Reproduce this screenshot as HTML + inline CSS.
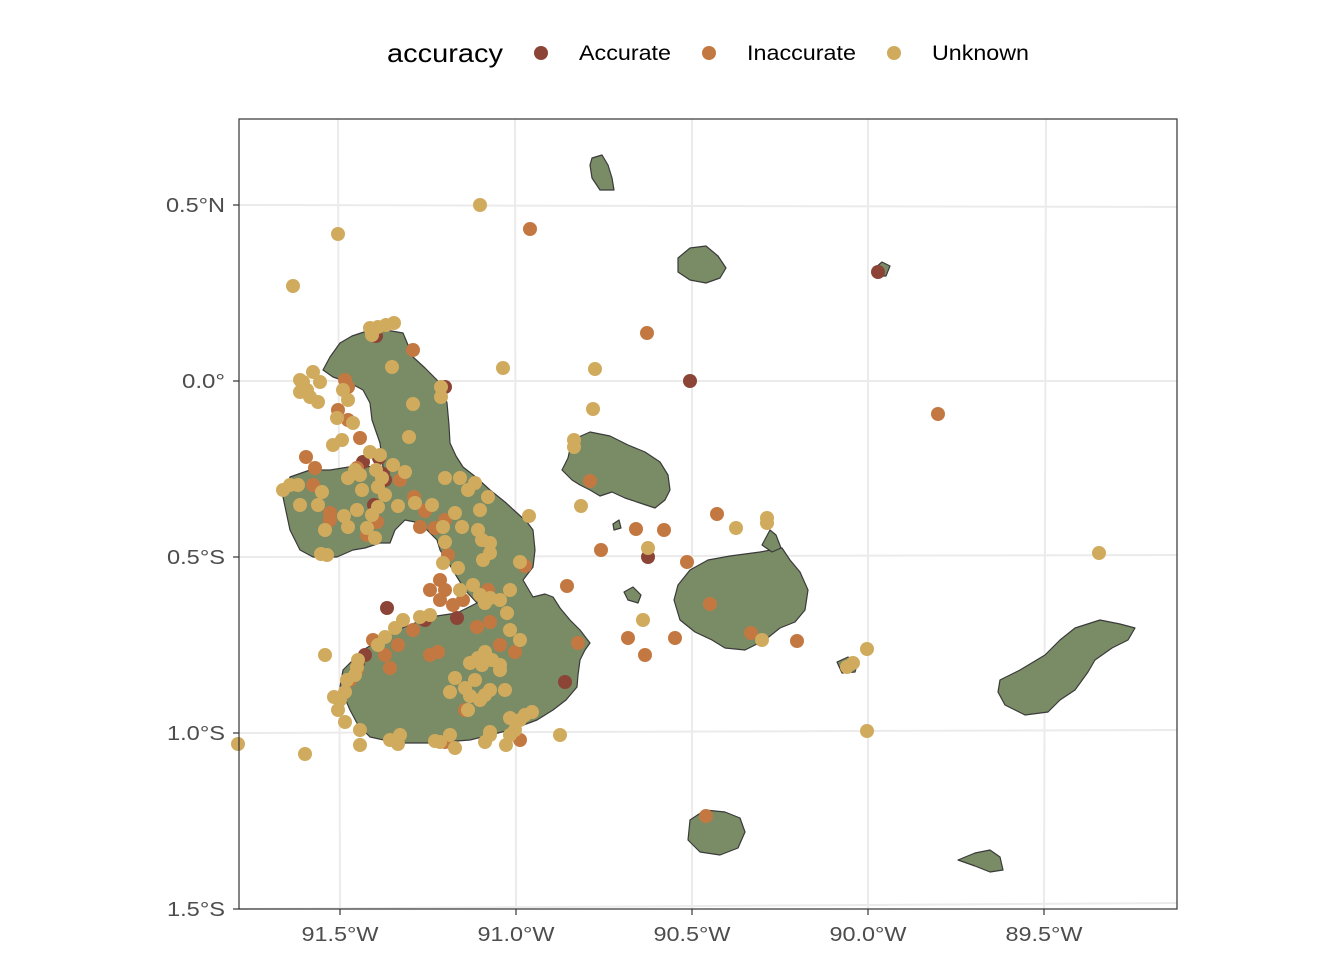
<!DOCTYPE html>
<html><head><meta charset="utf-8"><style>
body{margin:0;background:#fff}
svg{display:block;font-family:"Liberation Sans",Arial,sans-serif}
.a circle{fill:#8B4436}.i circle{fill:#C47841}.u circle{fill:#D0AB5E}
</style></head><body>
<svg width="1344" height="960" viewBox="0 0 1344 960" xmlns="http://www.w3.org/2000/svg">
<rect width="1344" height="960" fill="#fff"/>
<g stroke="#EBEBEB" stroke-width="2">
<line x1="239" y1="205" x2="1177" y2="207"/>
<line x1="239" y1="381" x2="1177" y2="381"/>
<line x1="239" y1="557" x2="1177" y2="555"/>
<line x1="239" y1="733" x2="1177" y2="730"/>
<line x1="239" y1="909" x2="1177" y2="903"/>
<line x1="338" y1="119" x2="340" y2="909"/>
<line x1="515" y1="119" x2="516" y2="909"/>
<line x1="692" y1="119" x2="692" y2="909"/>
<line x1="868" y1="119" x2="868" y2="909"/>
<line x1="1046" y1="119" x2="1044" y2="909"/>
</g>
<g fill="#798C66" stroke="#3a3a3a" stroke-width="1.2" stroke-linejoin="round">
<path d="M340,343 L352,336 L370,330 L386,330 L403,333 L408,345 L413,357 L425,368 L437,380 L444,392 L447,403 L449,425 L450,443 L456,456 L463,467 L477,478 L490,490 L505,502 L517,513 L527,522 L533,530 L535,550 L533,567 L523,580 L533,597 L545,594 L553,597 L560,608 L570,620 L580,630 L590,643 L585,650 L580,660 L578,675 L577,687 L566,700 L553,710 L537,720 L510,730 L470,740 L430,743 L397,743 L370,737 L358,725 L350,710 L340,687 L343,670 L363,650 L380,640 L397,630 L430,617 L457,613 L477,603 L465,590 L457,577 L448,562 L440,550 L437,540 L427,530 L415,522 L405,520 L395,530 L390,543 L380,543 L365,548 L353,550 L337,557 L313,557 L300,550 L290,530 L283,497 L290,477 L310,470 L330,470 L355,466 L383,467 L380,443 L372,420 L370,403 L363,390 L350,383 L333,377 L323,370 L330,357 Z"/>
<path d="M572,440 L590,432 L610,436 L628,445 L645,452 L660,462 L668,475 L670,490 L665,500 L655,508 L640,503 L625,498 L612,492 L600,496 L590,490 L580,485 L572,480 L562,470 L568,458 Z"/>
<path d="M678,258 L690,248 L706,246 L718,256 L726,268 L720,278 L706,283 L690,280 L678,272 Z"/>
<path d="M592,158 L602,155 L608,165 L612,178 L614,190 L600,190 L592,178 L590,165 Z"/>
<path d="M875,268 L882,262 L890,266 L886,276 L878,276 Z"/>
<path d="M690,570 L708,560 L730,556 L760,552 L782,548 L790,560 L800,572 L808,590 L805,610 L795,622 L780,628 L765,640 L745,650 L725,648 L712,640 L695,632 L680,620 L674,600 L678,585 Z"/>
<path d="M762,545 L770,530 L776,535 L781,548 L772,552 Z"/>
<path d="M1000,680 L1020,670 L1045,655 L1060,640 L1075,628 L1100,620 L1120,624 L1135,628 L1128,640 L1112,648 L1095,660 L1088,672 L1075,690 L1060,700 L1048,712 L1025,715 L1005,705 L998,692 Z"/>
<path d="M958,860 L975,853 L990,850 L1000,857 L1003,870 L990,872 L975,866 Z"/>
<path d="M690,820 L705,810 L725,812 L740,818 L745,832 L738,848 L720,855 L700,852 L688,840 Z"/>
<path d="M624,592 L633,587 L641,595 L638,603 L628,600 Z"/>
<path d="M837,662 L848,657 L858,662 L855,672 L842,673 Z"/>
<path d="M613,524 L619,520 L621,528 L614,530 Z"/>
</g>
<g class="a">
<circle cx="690" cy="381" r="7"/><circle cx="878" cy="272" r="7"/><circle cx="648" cy="557" r="7"/><circle cx="445" cy="387" r="7"/><circle cx="376" cy="336" r="7"/><circle cx="383" cy="474" r="7"/><circle cx="363" cy="462" r="7"/><circle cx="385" cy="480" r="7"/><circle cx="387" cy="608" r="7"/><circle cx="425" cy="620" r="7"/><circle cx="457" cy="618" r="7"/><circle cx="365" cy="655" r="7"/><circle cx="565" cy="682" r="7"/><circle cx="358" cy="663" r="7"/><circle cx="374" cy="505" r="7"/><circle cx="379" cy="458" r="7"/>
</g>
<g class="i">
<circle cx="530" cy="229" r="7"/><circle cx="647" cy="333" r="7"/><circle cx="413" cy="350" r="7"/><circle cx="938" cy="414" r="7"/><circle cx="590" cy="481" r="7"/><circle cx="601" cy="550" r="7"/><circle cx="636" cy="529" r="7"/><circle cx="664" cy="530" r="7"/><circle cx="717" cy="514" r="7"/><circle cx="687" cy="562" r="7"/><circle cx="710" cy="604" r="7"/><circle cx="751" cy="633" r="7"/><circle cx="797" cy="641" r="7"/><circle cx="675" cy="638" r="7"/><circle cx="628" cy="638" r="7"/><circle cx="645" cy="655" r="7"/><circle cx="567" cy="586" r="7"/><circle cx="706" cy="816" r="7"/><circle cx="525" cy="566" r="7"/><circle cx="345" cy="380" r="7"/><circle cx="348" cy="387" r="7"/><circle cx="338" cy="410" r="7"/><circle cx="348" cy="420" r="7"/><circle cx="360" cy="438" r="7"/><circle cx="306" cy="457" r="7"/><circle cx="315" cy="468" r="7"/><circle cx="357" cy="468" r="7"/><circle cx="313" cy="485" r="7"/><circle cx="330" cy="513" r="7"/><circle cx="330" cy="520" r="7"/><circle cx="367" cy="535" r="7"/><circle cx="377" cy="522" r="7"/><circle cx="400" cy="480" r="7"/><circle cx="414" cy="497" r="7"/><circle cx="425" cy="511" r="7"/><circle cx="445" cy="520" r="7"/><circle cx="435" cy="528" r="7"/><circle cx="420" cy="527" r="7"/><circle cx="448" cy="555" r="7"/><circle cx="440" cy="580" r="7"/><circle cx="445" cy="590" r="7"/><circle cx="440" cy="600" r="7"/><circle cx="463" cy="600" r="7"/><circle cx="488" cy="590" r="7"/><circle cx="430" cy="590" r="7"/><circle cx="453" cy="605" r="7"/><circle cx="413" cy="630" r="7"/><circle cx="373" cy="640" r="7"/><circle cx="398" cy="645" r="7"/><circle cx="385" cy="655" r="7"/><circle cx="357" cy="670" r="7"/><circle cx="350" cy="680" r="7"/><circle cx="438" cy="652" r="7"/><circle cx="390" cy="668" r="7"/><circle cx="430" cy="655" r="7"/><circle cx="500" cy="645" r="7"/><circle cx="515" cy="652" r="7"/><circle cx="477" cy="627" r="7"/><circle cx="490" cy="622" r="7"/><circle cx="578" cy="643" r="7"/><circle cx="465" cy="710" r="7"/><circle cx="445" cy="742" r="7"/><circle cx="520" cy="740" r="7"/>
</g>
<g class="u">
<circle cx="480" cy="205" r="7"/><circle cx="338" cy="234" r="7"/><circle cx="293" cy="286" r="7"/><circle cx="503" cy="368" r="7"/><circle cx="595" cy="369" r="7"/><circle cx="593" cy="409" r="7"/><circle cx="574" cy="447" r="7"/><circle cx="574" cy="440" r="7"/><circle cx="581" cy="506" r="7"/><circle cx="648" cy="548" r="7"/><circle cx="643" cy="620" r="7"/><circle cx="736" cy="528" r="7"/><circle cx="767" cy="518" r="7"/><circle cx="767" cy="523" r="7"/><circle cx="762" cy="640" r="7"/><circle cx="853" cy="663" r="7"/><circle cx="867" cy="649" r="7"/><circle cx="847" cy="667" r="7"/><circle cx="867" cy="731" r="7"/><circle cx="1099" cy="553" r="7"/><circle cx="560" cy="735" r="7"/><circle cx="238" cy="744" r="7"/><circle cx="305" cy="754" r="7"/><circle cx="325" cy="655" r="7"/><circle cx="529" cy="516" r="7"/>
<circle cx="370" cy="328" r="7"/><circle cx="378" cy="327" r="7"/><circle cx="386" cy="325" r="7"/><circle cx="394" cy="323" r="7"/><circle cx="372" cy="335" r="7"/><circle cx="392" cy="367" r="7"/><circle cx="413" cy="404" r="7"/><circle cx="409" cy="437" r="7"/><circle cx="441" cy="387" r="7"/><circle cx="441" cy="397" r="7"/>
<circle cx="303" cy="382" r="7"/><circle cx="313" cy="372" r="7"/><circle cx="300" cy="392" r="7"/><circle cx="310" cy="397" r="7"/><circle cx="318" cy="402" r="7"/><circle cx="307" cy="390" r="7"/><circle cx="320" cy="382" r="7"/><circle cx="300" cy="380" r="7"/><circle cx="343" cy="390" r="7"/><circle cx="348" cy="400" r="7"/><circle cx="337" cy="418" r="7"/><circle cx="353" cy="423" r="7"/><circle cx="333" cy="445" r="7"/><circle cx="342" cy="440" r="7"/><circle cx="290" cy="485" r="7"/><circle cx="283" cy="490" r="7"/><circle cx="298" cy="485" r="7"/><circle cx="322" cy="492" r="7"/><circle cx="348" cy="478" r="7"/><circle cx="355" cy="470" r="7"/><circle cx="360" cy="475" r="7"/><circle cx="362" cy="490" r="7"/><circle cx="378" cy="487" r="7"/><circle cx="382" cy="478" r="7"/><circle cx="385" cy="495" r="7"/><circle cx="393" cy="465" r="7"/><circle cx="405" cy="472" r="7"/><circle cx="376" cy="470" r="7"/><circle cx="370" cy="452" r="7"/><circle cx="380" cy="455" r="7"/><circle cx="378" cy="507" r="7"/><circle cx="372" cy="515" r="7"/><circle cx="367" cy="528" r="7"/><circle cx="375" cy="538" r="7"/><circle cx="348" cy="527" r="7"/><circle cx="357" cy="510" r="7"/><circle cx="344" cy="516" r="7"/><circle cx="325" cy="530" r="7"/><circle cx="318" cy="505" r="7"/><circle cx="300" cy="505" r="7"/><circle cx="321" cy="554" r="7"/><circle cx="327" cy="555" r="7"/><circle cx="398" cy="506" r="7"/><circle cx="415" cy="503" r="7"/><circle cx="432" cy="505" r="7"/><circle cx="445" cy="478" r="7"/><circle cx="460" cy="478" r="7"/><circle cx="475" cy="483" r="7"/><circle cx="468" cy="490" r="7"/><circle cx="488" cy="497" r="7"/><circle cx="455" cy="513" r="7"/><circle cx="480" cy="510" r="7"/><circle cx="443" cy="527" r="7"/><circle cx="462" cy="527" r="7"/><circle cx="478" cy="530" r="7"/><circle cx="445" cy="542" r="7"/><circle cx="482" cy="540" r="7"/><circle cx="490" cy="553" r="7"/><circle cx="483" cy="560" r="7"/><circle cx="443" cy="563" r="7"/><circle cx="458" cy="568" r="7"/><circle cx="473" cy="585" r="7"/><circle cx="460" cy="590" r="7"/><circle cx="480" cy="595" r="7"/><circle cx="490" cy="598" r="7"/><circle cx="510" cy="590" r="7"/><circle cx="500" cy="600" r="7"/><circle cx="507" cy="613" r="7"/><circle cx="485" cy="603" r="7"/><circle cx="520" cy="562" r="7"/><circle cx="490" cy="543" r="7"/><circle cx="420" cy="617" r="7"/><circle cx="430" cy="615" r="7"/><circle cx="403" cy="620" r="7"/><circle cx="395" cy="628" r="7"/><circle cx="385" cy="637" r="7"/><circle cx="378" cy="645" r="7"/><circle cx="358" cy="660" r="7"/><circle cx="357" cy="667" r="7"/><circle cx="355" cy="675" r="7"/><circle cx="347" cy="680" r="7"/><circle cx="345" cy="692" r="7"/><circle cx="340" cy="700" r="7"/><circle cx="334" cy="697" r="7"/><circle cx="338" cy="710" r="7"/><circle cx="345" cy="722" r="7"/><circle cx="360" cy="730" r="7"/><circle cx="360" cy="745" r="7"/><circle cx="390" cy="740" r="7"/><circle cx="398" cy="744" r="7"/><circle cx="435" cy="741" r="7"/><circle cx="455" cy="748" r="7"/><circle cx="485" cy="742" r="7"/><circle cx="490" cy="735" r="7"/><circle cx="510" cy="735" r="7"/><circle cx="515" cy="730" r="7"/><circle cx="520" cy="720" r="7"/><circle cx="525" cy="715" r="7"/><circle cx="532" cy="712" r="7"/><circle cx="510" cy="718" r="7"/><circle cx="490" cy="732" r="7"/><circle cx="468" cy="710" r="7"/><circle cx="480" cy="700" r="7"/><circle cx="505" cy="690" r="7"/><circle cx="490" cy="690" r="7"/><circle cx="475" cy="680" r="7"/><circle cx="482" cy="665" r="7"/><circle cx="470" cy="663" r="7"/><circle cx="478" cy="658" r="7"/><circle cx="485" cy="652" r="7"/><circle cx="492" cy="660" r="7"/><circle cx="500" cy="665" r="7"/><circle cx="465" cy="688" r="7"/><circle cx="470" cy="696" r="7"/><circle cx="450" cy="692" r="7"/><circle cx="455" cy="678" r="7"/><circle cx="510" cy="630" r="7"/><circle cx="520" cy="640" r="7"/><circle cx="500" cy="670" r="7"/><circle cx="485" cy="695" r="7"/><circle cx="506" cy="745" r="7"/><circle cx="450" cy="735" r="7"/><circle cx="440" cy="742" r="7"/><circle cx="400" cy="735" r="7"/>
</g>
<rect x="239" y="119" width="938" height="790" fill="none" stroke="#333" stroke-width="1.2"/>
<g stroke="#333" stroke-width="1.2">
<line x1="233" y1="205" x2="239" y2="205"/><line x1="233" y1="381" x2="239" y2="381"/>
<line x1="233" y1="557" x2="239" y2="557"/><line x1="233" y1="733" x2="239" y2="733"/>
<line x1="233" y1="909" x2="239" y2="909"/>
<line x1="340" y1="909" x2="340" y2="915"/><line x1="516" y1="909" x2="516" y2="915"/>
<line x1="692" y1="909" x2="692" y2="915"/><line x1="868" y1="909" x2="868" y2="915"/>
<line x1="1044" y1="909" x2="1044" y2="915"/>
</g>
<g fill="#4D4D4D" font-size="20" text-anchor="end">
<text x="225" y="212" textLength="59" lengthAdjust="spacingAndGlyphs">0.5°N</text>
<text x="225" y="388" textLength="43" lengthAdjust="spacingAndGlyphs">0.0°</text>
<text x="225" y="564" textLength="58" lengthAdjust="spacingAndGlyphs">0.5°S</text>
<text x="225" y="740" textLength="58" lengthAdjust="spacingAndGlyphs">1.0°S</text>
<text x="225" y="916" textLength="58" lengthAdjust="spacingAndGlyphs">1.5°S</text>
</g>
<g fill="#4D4D4D" font-size="20" text-anchor="middle">
<text x="340" y="941" textLength="77" lengthAdjust="spacingAndGlyphs">91.5°W</text>
<text x="516" y="941" textLength="77" lengthAdjust="spacingAndGlyphs">91.0°W</text>
<text x="692" y="941" textLength="77" lengthAdjust="spacingAndGlyphs">90.5°W</text>
<text x="868" y="941" textLength="77" lengthAdjust="spacingAndGlyphs">90.0°W</text>
<text x="1044" y="941" textLength="77" lengthAdjust="spacingAndGlyphs">89.5°W</text>
</g>
<text x="387" y="62" font-size="26" fill="#000" textLength="116" lengthAdjust="spacingAndGlyphs">accuracy</text>
<circle cx="541" cy="53" r="7" fill="#8B4436"/><text x="579" y="60" font-size="21" textLength="92" lengthAdjust="spacingAndGlyphs">Accurate</text>
<circle cx="709" cy="53" r="7" fill="#C47841"/><text x="747" y="60" font-size="21" textLength="109" lengthAdjust="spacingAndGlyphs">Inaccurate</text>
<circle cx="894" cy="53" r="7" fill="#D0AB5E"/><text x="932" y="60" font-size="21" textLength="97" lengthAdjust="spacingAndGlyphs">Unknown</text>
</svg>
</body></html>
